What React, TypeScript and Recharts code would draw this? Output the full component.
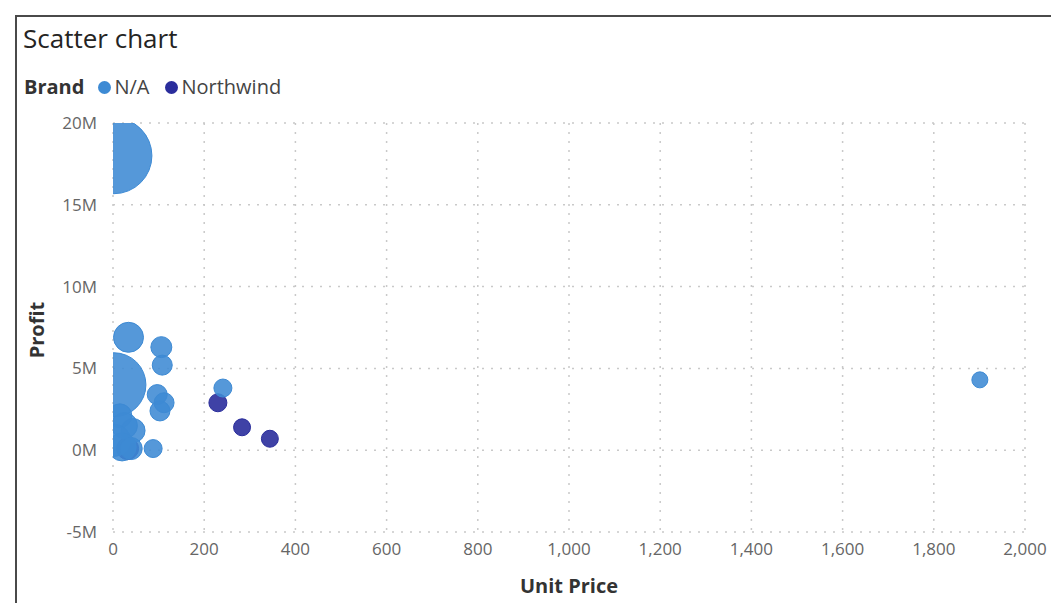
import React from 'react';
import { ScatterChart, Scatter, XAxis, YAxis, ZAxis, CartesianGrid } from 'recharts';

const xTicks = [0, 200, 400, 600, 800, 1000, 1200, 1400, 1600, 1800, 2000];
const yTicks = [-5, 0, 5, 10, 15, 20];

// Brand N/A: unit price, profit (M), bubble size
const naPrice = [2, 34, 2, 106, 108, 97, 112, 103, 15, 44, 25, 3, 20, 40, 88, 241, 1901];
const naProfit = [18.0, 6.9, 4.0, 6.3, 5.2, 3.4, 2.9, 2.4, 2.1, 1.2, 1.5, 0.6, 0.2, 0.1, 0.1, 3.8, 4.3];
const naSize = [1444, 225, 1024, 110, 100, 100, 100, 100, 144, 144, 169, 256, 196, 121, 81, 81, 64];

// Brand Northwind
const nwPrice = [32, 230, 283, 344];
const nwProfit = [0.1, 2.9, 1.4, 0.7];
const nwSize = [121, 81, 72, 72];

const naData = naPrice.map((p, i) => ({ price: p, profit: naProfit[i], size: naSize[i] }));
const nwData = nwPrice.map((p, i) => ({ price: p, profit: nwProfit[i], size: nwSize[i] }));

const FONT = '"Open Sans", "Noto Sans", sans-serif';
const LIGHT = '#3d8ad4';
const DARK = '#2a2d9c';

const fmtY = (v: number) => `${v}M`;
const fmtX = (v: number) => v.toLocaleString('en-US');

export default function App() {
  return (
    <div style={{ position: 'absolute', left: 0, top: 0, width: 1051, height: 603, background: '#fff', fontFamily: FONT, overflow: 'hidden' }}>
      <div style={{ position: 'absolute', left: 15, top: 15, width: 1040, height: 600, borderTop: '2px solid #4a4a4a', borderLeft: '2px solid #4a4a4a' }} />
      <div style={{ position: 'absolute', left: 23, top: 22, fontSize: 26, lineHeight: '32px', color: '#252423', whiteSpace: 'nowrap' }}>Scatter chart</div>
      <div style={{ position: 'absolute', left: 24, top: 74, height: 26, fontSize: 20, lineHeight: '26px', color: '#333', display: 'flex', alignItems: 'center', whiteSpace: 'nowrap' }}>
        <span style={{ fontWeight: 700, marginRight: 14 }}>Brand</span>
        <span style={{ display: 'inline-block', width: 13, height: 13, borderRadius: 7, background: LIGHT, marginRight: 3 }} />
        <span style={{ color: '#444', marginRight: 16 }}>N/A</span>
        <span style={{ display: 'inline-block', width: 13, height: 13, borderRadius: 7, background: DARK, marginRight: 3 }} />
        <span style={{ color: '#444' }}>Northwind</span>
      </div>
      <div style={{ position: 'absolute', left: 36, top: 330, transform: 'translate(-50%, -50%) rotate(-90deg)', fontSize: 20, fontWeight: 700, color: '#333', whiteSpace: 'nowrap' }}>Profit</div>
      <div style={{ position: 'absolute', left: 569, top: 585, transform: 'translate(-50%, -50%)', fontSize: 20, fontWeight: 700, color: '#333', whiteSpace: 'nowrap' }}>Unit Price</div>
      <div style={{ position: 'absolute', left: 0, top: 0 }}>
        <ScatterChart width={1051} height={603} margin={{ top: 123, right: 26, bottom: 41, left: 53 }}>
          <CartesianGrid stroke="#c9c9c9" strokeDasharray="2 7" strokeWidth={1.5} />
          <XAxis
            type="number"
            dataKey="price"
            domain={[0, 2000]}
            ticks={xTicks}
            tickFormatter={fmtX}
            allowDataOverflow
            axisLine={false}
            tickLine={false}
            tickSize={0}
            tickMargin={11}
            height={30}
            tick={{ fill: '#666', fontSize: 17, fontFamily: FONT }}
          />
          <YAxis
            type="number"
            dataKey="profit"
            domain={[-5, 20]}
            ticks={yTicks}
            tickFormatter={fmtY}
            allowDataOverflow
            axisLine={false}
            tickLine={false}
            tickSize={0}
            tickMargin={16}
            width={60}
            tick={{ fill: '#666', fontSize: 17, fontFamily: FONT }}
          />
          <ZAxis type="number" dataKey="size" domain={[0, 1444]} range={[0, 4536]} />
          <Scatter name="Northwind" data={nwData} fill={DARK} fillOpacity={0.9} stroke={DARK} strokeWidth={1} isAnimationActive={false} />
          <Scatter name="N/A" data={naData} fill={LIGHT} fillOpacity={0.88} stroke={LIGHT} strokeWidth={1} isAnimationActive={false} />
        </ScatterChart>
      </div>
    </div>
  );
}
